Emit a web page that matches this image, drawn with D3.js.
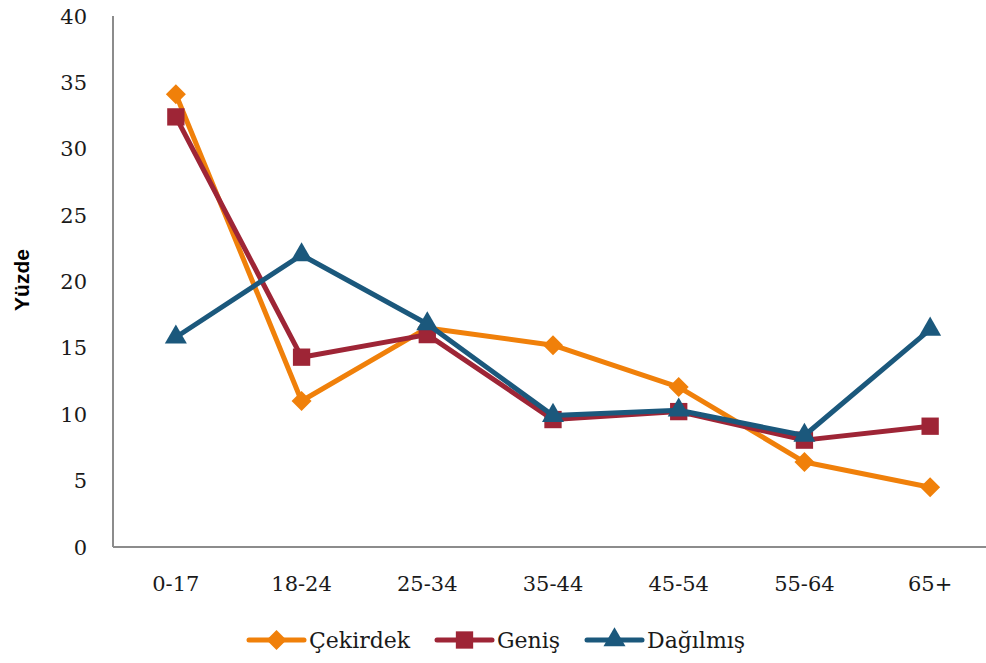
<!DOCTYPE html>
<html>
<head>
<meta charset="utf-8">
<script src="https://cdn.jsdelivr.net/npm/d3@7"></script>
<style>
  body { margin: 0; background: #fff; }
  svg { display: block; }
</style>
</head>
<body>
<div id="content"></div>
<script>
// age groups on the x axis
let categories = ["0-17", "18-24", "25-34", "35-44", "45-54", "55-64", "65+"];
let yTicks = [0, 5, 10, 15, 20, 25, 30, 35, 40];

let cekirdek = [34.1, 11.0, 16.5, 15.2, 12.05, 6.4, 4.5];
let genis = [32.4, 14.3, 16.0, 9.6, 10.2, 8.05, 9.1];
let dagilmis = [15.8, 22.0, 16.8, 9.9, 10.3, 8.4, 16.4];

let seriesNames = ["Çekirdek", "Geniş", "Dağılmış"];

function init() {
    let width = 986,
        height = 663;

    let font = "'DejaVu Serif', serif";

    // rot: rotate the square to get a even diamond
    let series = [
        { name: seriesNames[0], values: cekirdek, color: "#F0800A", shape: d3.symbolSquare, size: 200, rot: 45 },
        { name: seriesNames[1], values: genis, color: "#9E2536", shape: d3.symbolSquare, size: 300, rot: 0 },
        { name: seriesNames[2], values: dagilmis, color: "#1B587C", shape: d3.symbolTriangle, size: 210, rot: 0 }
    ];

    let svg = d3.select("#content")
        .append("svg")
        .attr("width", width)
        .attr("height", height);

    let x = d3.scalePoint()
        .domain(categories)
        .range([113, 993])
        .padding(0.5);

    let y = d3.scaleLinear()
        .domain([0, 40])
        .range([547, 16]);

    // axes lines
    svg.append("line")
        .attr("x1", 113).attr("x2", 113)
        .attr("y1", y(40)).attr("y2", y(0))
        .attr("stroke", "#8c8c8c")
        .attr("stroke-width", 2);

    svg.append("line")
        .attr("x1", 113).attr("x2", width)
        .attr("y1", y(0)).attr("y2", y(0))
        .attr("stroke", "#8c8c8c")
        .attr("stroke-width", 2);

    // y tick labels
    svg.selectAll(".ytick")
        .data(yTicks)
        .enter()
        .append("text")
        .attr("class", "ytick")
        .attr("x", 87)
        .attr("y", d => y(d))
        .attr("dy", "0.36em")
        .attr("text-anchor", "end")
        .style("font", "21px " + font)
        .style("fill", "#1a1a1a")
        .text(d => d);

    // x tick labels
    svg.selectAll(".xtick")
        .data(categories)
        .enter()
        .append("text")
        .attr("class", "xtick")
        .attr("x", d => x(d))
        .attr("y", 583)
        .attr("dy", "0.36em")
        .attr("text-anchor", "middle")
        .style("font", "21px " + font)
        .style("fill", "#1a1a1a")
        .text(d => d);

    // y axis title
    svg.append("text")
        .attr("transform", "translate(29,280) rotate(-90)")
        .attr("text-anchor", "middle")
        .style("font", "bold 21px 'Liberation Sans', Arial, sans-serif")
        .style("fill", "#000")
        .text("Yüzde");

    let line = d3.line()
        .x((d, i) => x(categories[i]))
        .y(d => y(d));

    series.forEach(s => {
        let g = svg.append("g");
        g.append("path")
            .datum(s.values)
            .attr("d", line)
            .attr("fill", "none")
            .attr("stroke", s.color)
            .attr("stroke-width", 5)
            .attr("stroke-linejoin", "round");
        g.selectAll("path.marker")
            .data(s.values)
            .enter()
            .append("path")
            .attr("class", "marker")
            .attr("d", d3.symbol().type(s.shape).size(s.size))
            .attr("transform", (d, i) => "translate(" + x(categories[i]) + "," + y(d) + ") rotate(" + s.rot + ")")
            .attr("fill", s.color);
    });

    // legend
    let legendX = [249, 437, 587];
    let legendY = 640;
    let legend = svg.selectAll(".legend")
        .data(series)
        .enter()
        .append("g")
        .attr("class", "legend")
        .attr("transform", (d, i) => "translate(" + legendX[i] + "," + legendY + ")");

    legend.append("line")
        .attr("x1", 0).attr("x2", 55)
        .attr("y1", 0).attr("y2", 0)
        .attr("stroke", d => d.color)
        .attr("stroke-width", 5)
        .attr("stroke-linecap", "round");

    legend.append("path")
        .attr("d", d => d3.symbol().type(d.shape).size(d.size)())
        .attr("transform", d => "translate(27.5,0) rotate(" + d.rot + ")")
        .attr("fill", d => d.color);

    legend.append("text")
        .attr("x", 60)
        .attr("y", 0)
        .attr("dy", "0.36em")
        .style("font", "22px " + font)
        .style("fill", "#1a1a1a")
        .text(d => d.name);
}
init();
</script>
</body>
</html>
